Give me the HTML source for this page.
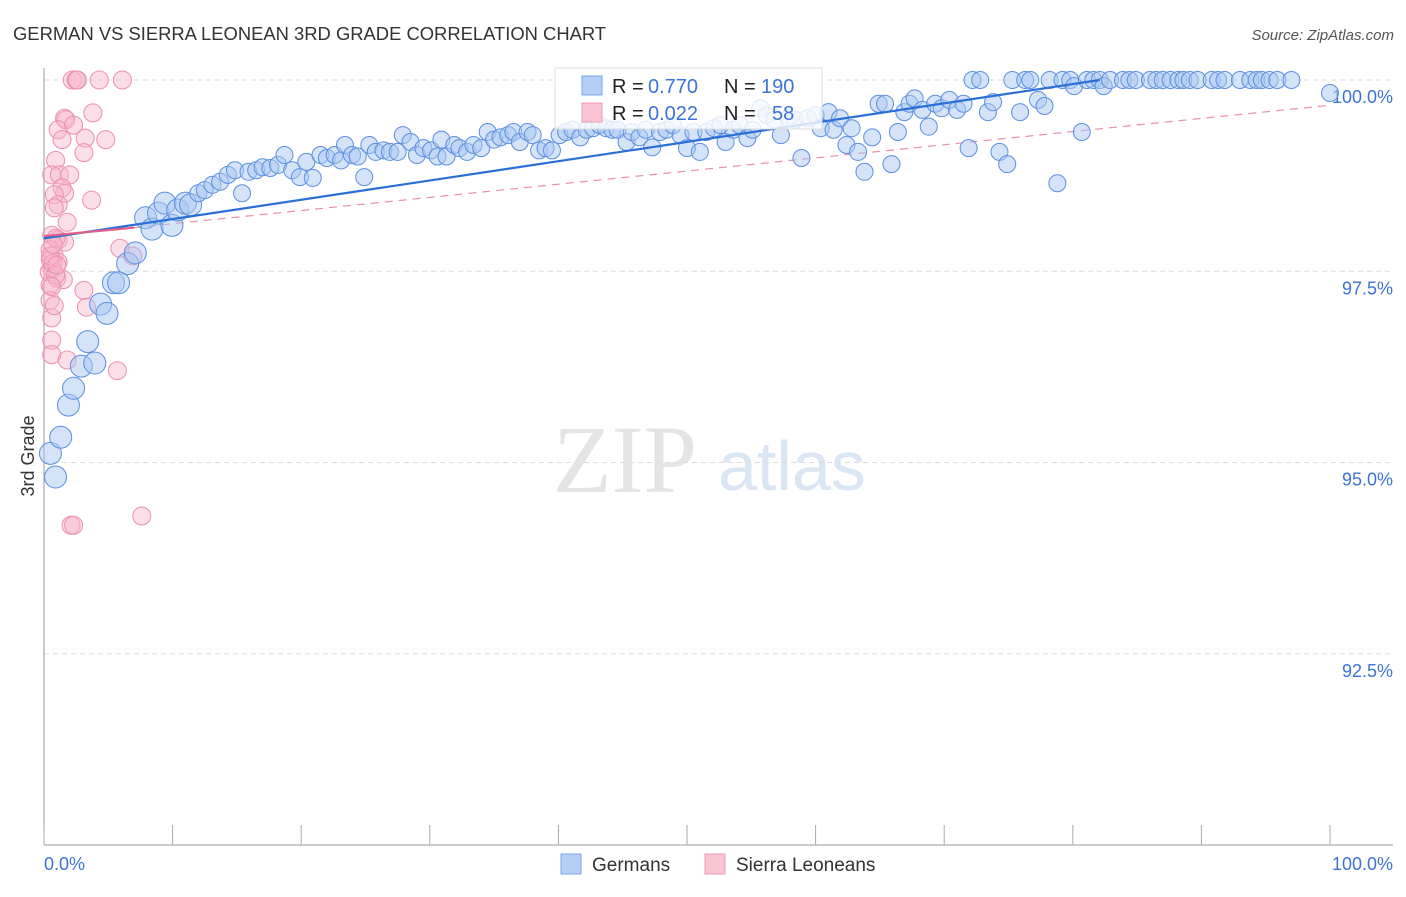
<!DOCTYPE html>
<html><head><meta charset="utf-8"><style>
body{margin:0;background:#fff;font-family:"Liberation Sans",sans-serif}
</style></head><body>
<svg id="chart" width="1406" height="892" xmlns="http://www.w3.org/2000/svg">
<text x="13" y="40" font-size="18.4" fill="#333">GERMAN VS SIERRA LEONEAN 3RD GRADE CORRELATION CHART</text>
<text x="1394" y="40" font-size="15" fill="#555" font-style="italic" text-anchor="end">Source: ZipAtlas.com</text>
<text transform="translate(34,456) rotate(-90)" font-size="18" fill="#333" text-anchor="middle">3rd Grade</text>
<g>
<text x="553" y="492" font-family="Liberation Serif,serif" font-size="96" fill="#e4e4e4">ZIP</text>
<text x="718" y="490" font-size="70" fill="#dbe6f5">atlas</text>
</g>
<g id="grid"></g><g id="axes"></g><g id="lines"></g>
<g id="pts"></g>
<g>
<rect x="555" y="68" width="267" height="61" fill="#fff" fill-opacity="0.8" stroke="#ddd"/>
<rect x="582" y="76" width="20" height="19" fill="#b5d0f5" stroke="#7aa6e6"/>
<rect x="582" y="103" width="20" height="19" fill="#f9c4d4" stroke="#ee9ab4"/>
<text x="612" y="93" font-size="20" fill="#222">R =</text>
<text x="648" y="93" font-size="20" fill="#3d73d6">0.770</text>
<text x="724" y="93" font-size="20" fill="#222">N =</text>
<text x="761" y="93" font-size="20" fill="#3d73d6">190</text>
<text x="612" y="120" font-size="20" fill="#222">R =</text>
<text x="648" y="120" font-size="20" fill="#3d73d6">0.022</text>
<text x="724" y="120" font-size="20" fill="#222">N =</text>
<text x="772" y="120" font-size="20" fill="#3d73d6">58</text>
</g>
<g>
<rect x="561" y="854" width="20" height="20" fill="#b5d0f5" stroke="#7aa6e6"/>
<text x="592" y="871" font-size="19" fill="#333">Germans</text>
<rect x="705" y="854" width="20" height="20" fill="#f9c4d4" stroke="#ee9ab4"/>
<text x="736" y="871" font-size="19" fill="#333">Sierra Leoneans</text>
</g>
</svg>
<script>
const yTicks=[100,97.5,95,92.5];
const yTickLabels=["100.0%","97.5%","95.0%","92.5%"];
const xTickLabels=["0.0%","100.0%"];
const blueX=[0.5,0.9,1.3,1.9,2.3,2.9,3.4,3.95,4.4,4.9,5.4,5.8,6.5,7.1,7.9,8.4,8.9,9.4,9.95,10.4,11.0,11.4,12.0,12.5,13.1,13.7,14.3,14.85,15.4,15.9,16.5,17.0,17.6,18.2,18.7,19.3,19.9,20.4,20.9,21.5,22.0,22.6,23.1,23.4,23.95,24.4,24.9,25.3,25.8,26.4,26.9,27.5,27.9,28.5,29.0,29.5,30.1,30.6,30.9,31.3,31.9,32.3,32.9,33.4,34.0,34.5,35.0,35.5,36.1,36.5,37.0,37.6,38.0,38.5,39.0,39.5,40.1,40.6,41.1,41.7,42.2,42.7,43.2,43.7,44.2,44.6,45.3,45.7,46.3,46.8,47.3,47.9,48.4,48.9,49.5,50.0,50.5,51.0,51.5,52.1,52.6,53.0,53.6,54.1,54.7,55.1,55.7,56.2,56.8,57.3,57.9,58.4,58.9,59.4,60.0,60.4,61.0,61.4,61.9,62.4,62.8,63.3,63.8,64.4,64.9,65.4,65.9,66.4,66.9,67.3,67.7,68.3,68.8,69.3,69.8,70.4,71.0,71.5,71.9,72.2,72.8,73.4,73.8,74.3,74.9,75.3,75.9,76.3,76.7,77.3,77.8,78.2,78.8,79.2,79.8,80.1,80.7,81.1,81.6,82.1,82.4,82.9,83.9,84.4,84.9,86.0,86.5,87.0,87.6,88.2,88.6,89.1,89.7,90.8,91.3,91.8,93.0,93.8,94.3,94.7,95.3,95.9,97.0,100];
const blueY=[95.12,94.81,95.33,95.75,95.97,96.26,96.58,96.3,97.07,96.95,97.35,97.35,97.6,97.74,98.2,98.05,98.26,98.39,98.1,98.3,98.39,98.37,98.52,98.56,98.63,98.67,98.76,98.82,98.52,98.8,98.82,98.86,98.85,98.89,99.02,98.82,98.73,98.93,98.72,99.02,98.98,99.02,98.95,99.15,99.02,99.0,98.73,99.15,99.06,99.08,99.06,99.06,99.28,99.19,99.02,99.11,99.08,99.0,99.22,99.0,99.15,99.11,99.06,99.15,99.11,99.32,99.22,99.25,99.28,99.32,99.19,99.32,99.28,99.08,99.11,99.08,99.28,99.32,99.35,99.25,99.35,99.37,99.41,99.37,99.35,99.35,99.19,99.32,99.25,99.35,99.12,99.32,99.35,99.41,99.28,99.11,99.32,99.06,99.32,99.37,99.41,99.19,99.35,99.41,99.24,99.35,99.63,99.54,99.48,99.28,99.5,99.48,98.98,99.5,99.54,99.37,99.58,99.35,99.5,99.15,99.37,99.06,98.8,99.25,99.69,99.69,98.9,99.32,99.58,99.69,99.76,99.61,99.39,99.69,99.63,99.74,99.61,99.69,99.11,100,100,99.58,99.71,99.06,98.9,100,99.58,100,100,99.74,99.66,100,98.65,100,100,99.92,99.32,100,100,100,99.92,100,100,100,100,100,100,100,100,100,100,100,100,100,100,100,100,100,100,100,100,100,100,99.83];
const pinkX=[2.2,2.5,2.6,4.3,6.1,1.6,1.7,3.8,1.1,1.4,2.3,3.2,4.8,3.1,0.9,0.6,1.2,2.0,1.4,1.6,0.8,1.1,0.8,3.7,1.8,0.6,1.1,1.6,0.93,0.47,0.78,1.1,0.6,0.4,1.0,1.5,0.47,5.9,6.9,3.1,3.3,0.47,0.6,0.6,0.6,1.8,5.7,2.1,2.3,7.6,0.5,0.7,0.9,0.5,0.7,1.0,0.6,0.8];
const pinkY=[100,100,100,100,100,99.5,99.48,99.57,99.35,99.22,99.41,99.24,99.22,99.05,98.95,98.76,98.76,98.76,98.59,98.52,98.5,98.37,98.33,98.43,98.14,97.97,97.91,97.88,97.93,97.78,97.71,97.62,97.54,97.49,97.41,97.39,97.32,97.8,97.7,97.25,97.03,97.12,96.89,96.6,96.41,96.34,96.2,94.18,94.18,94.3,97.65,97.6,97.45,97.7,97.85,97.58,97.3,97.05];
const blueTrendX=[0,82.1], blueTrendY=[97.93,100];
const pinkTrendX=[0,7,100], pinkTrendY=[97.96,98.07,99.67];
const X=v=>44+v*12.86, Y=v=>80+(100-v)*76.5;
const NS="http://www.w3.org/2000/svg";
function mk(t,a,p){const e=document.createElementNS(NS,t);for(const k in a)e.setAttribute(k,a[k]);p.appendChild(e);return e;}
const grid=document.getElementById('grid'),axes=document.getElementById('axes'),lines=document.getElementById('lines'),pts=document.getElementById('pts');
yTicks.forEach((t,i)=>{
  const l=mk('line',{x1:44,x2:1393,y1:Y(t),y2:Y(t),stroke:'#ddd','stroke-dasharray':'5,4'},grid);
  
  
  const tx=mk('text',{x:1393,y:Y(t)+23,'font-size':18,fill:'#3d73d6','text-anchor':'end'},axes);
  tx.textContent=yTickLabels[i];
  
  
});
const ya=mk('line',{x1:44,x2:44,y1:68,y2:845,stroke:'#999'},axes);


const xa=mk('line',{x1:44,x2:1393,y1:845,y2:845,stroke:'#999'},axes);


for(let i=0;i<=10;i++){
  const tk=mk('line',{x1:X(i*10),x2:X(i*10),y1:825,y2:845,stroke:'#aaa'},axes);
  
  
}
[[0,'start',44],[1,'end',1393]].forEach(([i,a,x])=>{
  const tx=mk('text',{x:x,y:870,'font-size':18,fill:'#3d73d6','text-anchor':a},axes);
  tx.textContent=xTickLabels[i];
  
  
});
const pd=mk('line',{x1:X(pinkTrendX[1]),y1:Y(pinkTrendY[1]),x2:X(pinkTrendX[2]),y2:Y(pinkTrendY[2]),stroke:'#e890ab','stroke-width':1.2,'stroke-dasharray':'8,6'},lines);


pinkX.forEach((v,i)=>{
  const c=mk('circle',{cx:X(v),cy:Y(pinkY[i]),r:9,fill:'#f7b6ca','fill-opacity':0.45,stroke:'#ec8fae','stroke-width':1},pts);
  
  
});
blueX.forEach((v,i)=>{
  const c=mk('circle',{cx:X(v),cy:Y(blueY[i]),r:v<12?11:8.5,fill:'#a9c7f2','fill-opacity':0.5,stroke:'#5b8fe0','stroke-width':1},pts);
  
  
});
const bl=mk('line',{x1:X(blueTrendX[0]),y1:Y(blueTrendY[0]),x2:X(blueTrendX[1]),y2:Y(blueTrendY[1]),stroke:'#2a6fd8','stroke-width':2.2},pts);


const ps=mk('line',{x1:X(pinkTrendX[0]),y1:Y(pinkTrendY[0]),x2:X(pinkTrendX[1]),y2:Y(pinkTrendY[1]),stroke:'#e0608a','stroke-width':2.2},pts);


</script>
</body></html>
